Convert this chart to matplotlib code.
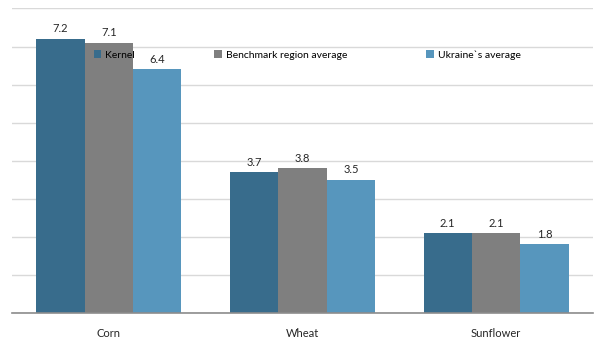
import matplotlib.pyplot as plt
import numpy as np
from matplotlib.patches import Patch

categories = ["Corn", "Wheat", "Sunflower"]
series_names = ["Kernel", "Benchmark region average", "Ukraine`s average"]
kernel = [7.2, 3.7, 2.1]
benchmark = [7.1, 3.8, 2.1]
ukraine = [6.4, 3.5, 1.8]
colors = ["#386c8c", "#7f7f7f", "#5796bd"]

plt.rcParams['font.family'] = ['Lato', 'DejaVu Sans']

fig = plt.figure(figsize=(6.05, 3.4), dpi=100)
ax = fig.add_axes([12/605, 1-313/340, (593-12)/605, (313-8.5)/340])

x = np.arange(len(categories))
w = 0.25
for i, (vals, c) in enumerate(zip([kernel, benchmark, ukraine], colors)):
    bars = ax.bar(x + (i-1)*w, vals, width=w, color=c, zorder=2)
    for b, v in zip(bars, vals):
        ax.text(b.get_x()+b.get_width()/2, v + 0.12, f"{v:.1f}", ha='center', va='bottom',
                fontsize=8, color='#262626', zorder=3)

ax.set_xlim(-0.5, 2.5)
ax.set_ylim(0, 8)
ax.set_yticks(np.arange(0, 9, 1))
ax.yaxis.grid(True, color='#d9d9d9', linewidth=1, zorder=0)
ax.tick_params(axis='y', left=False, labelleft=False)
ax.tick_params(axis='x', bottom=False, labelsize=8, colors='#262626', pad=7)
ax.set_xticks(x)
ax.set_xticklabels(categories)
for s in ['top', 'right', 'left']:
    ax.spines[s].set_visible(False)
ax.spines['bottom'].set_color('#8c8c8c')
ax.spines['bottom'].set_linewidth(1.2)

handles = [Patch(facecolor=c, edgecolor='none') for c in colors]
leg = fig.legend(handles, series_names, loc='center left', bbox_to_anchor=(94/605, 1-55/340),
                 ncol=3, frameon=False, fontsize=7.5, handlelength=0.7, handleheight=0.7,
                 handletextpad=0.4, columnspacing=7.6, borderpad=0, borderaxespad=0)
leg.set_zorder(5)

fig.savefig("out.png", dpi=100)
